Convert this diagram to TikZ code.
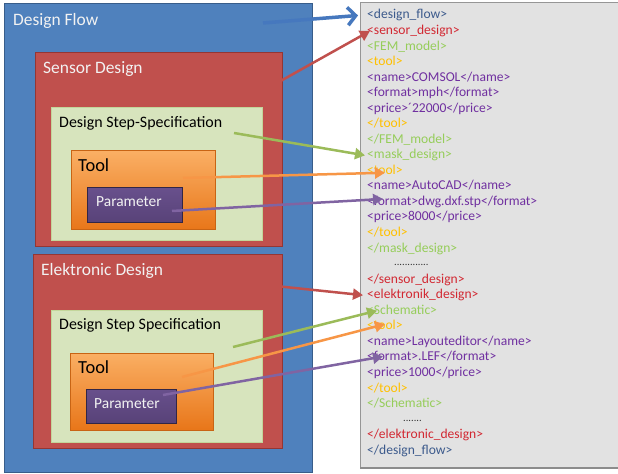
\documentclass[tikz,border=0pt]{standalone}
\usepackage{fontspec}
\setmainfont{Carlito}
\usetikzlibrary{arrows.meta}
\definecolor{cBlue}{RGB}{79,129,189}
\definecolor{cBlueD}{RGB}{56,93,138}
\definecolor{cRed}{RGB}{192,80,77}
\definecolor{cRedD}{RGB}{148,54,52}
\definecolor{cGreen}{RGB}{215,228,189}
\definecolor{cGreenD}{RGB}{195,214,155}
\definecolor{cOrT}{RGB}{250,175,100}
\definecolor{cOrB}{RGB}{232,118,25}
\definecolor{cOrD}{RGB}{200,100,20}
\definecolor{cPuT}{RGB}{104,80,140}
\definecolor{cPuB}{RGB}{88,66,120}
\definecolor{cPuD}{RGB}{50,38,70}
\definecolor{cPanel}{RGB}{226,226,226}
\definecolor{cPanelD}{RGB}{150,150,150}
\definecolor{aBlue}{RGB}{70,120,190}
\definecolor{aRed}{RGB}{192,80,77}
\definecolor{aGreen}{RGB}{155,187,89}
\definecolor{aOrange}{RGB}{247,150,70}
\definecolor{aPurple}{RGB}{128,100,162}
\definecolor{tDF}{RGB}{60,90,140}
\definecolor{tRed}{RGB}{210,40,50}
\definecolor{tGreen}{RGB}{150,205,90}
\definecolor{tTool}{RGB}{255,192,0}
\definecolor{tPur}{RGB}{112,48,160}
\begin{document}
\begin{tikzpicture}[x=1bp,y=-1bp,
  box/.style={line width=1bp, anchor=north west, inner sep=0pt, outer sep=0pt},
  lbl/.style={anchor=base west, inner sep=0pt},
  wlbl/.style={lbl, text=white!95!black},
  xml/.style={anchor=base west, inner sep=0pt, font=\fontsize{13.6}{15}\selectfont},
  con/.style={line width=2.5bp, -{Triangle[length=10bp,width=11bp]}}]
\useasboundingbox (0,0) rectangle (618,474);
\fill[white] (0,0) rectangle (618,474);
% boxes
\node[box, fill=cBlue, draw=cBlueD, minimum width=308bp, minimum height=468bp] (flow) at (4,4) {};
\node[box, fill=cRed, draw=cRedD, minimum width=247bp, minimum height=193bp] (sens) at (35,53) {};
\node[box, fill=cGreen, draw=cGreenD, minimum width=211bp, minimum height=132bp] (spec1) at (51,108) {};
\node[box, top color=cOrT, bottom color=cOrB, draw=cOrD, minimum width=144bp, minimum height=79bp] (tool1) at (71,151) {};
\node[box, top color=cPuT, bottom color=cPuB, draw=cPuD, minimum width=95bp, minimum height=35bp] (par1) at (87,188) {};
\node[box, fill=cRed, draw=cRedD, minimum width=249bp, minimum height=193bp] (elek) at (33,255) {};
\node[box, fill=cGreen, draw=cGreenD, minimum width=211bp, minimum height=132bp] (spec2) at (51,310) {};
\node[box, top color=cOrT, bottom color=cOrB, draw=cOrD, minimum width=143bp, minimum height=77bp] (tool2) at (70,353) {};
\node[box, top color=cPuT, bottom color=cPuB, draw=cPuD, minimum width=90bp, minimum height=34bp] (par2) at (86,389) {};
% labels
\node[wlbl, font=\fontsize{17.5}{20}\selectfont] (lflow) at (13,26) {Design Flow};
\node[wlbl, font=\fontsize{17.5}{20}\selectfont] (lsens) at (43,74) {Sensor Design};
\node[lbl, font=\fontsize{16}{19}\selectfont] (lspec1) at (59,128) {Design Step-Specification};
\node[lbl, font=\fontsize{18.5}{21}\selectfont] (ltool1) at (78,172) {Tool};
\node[wlbl, font=\fontsize{15.5}{18}\selectfont] (lpar1) at (96,207) {Parameter};
\node[wlbl, font=\fontsize{17.5}{20}\selectfont] (lelek) at (41,276) {Elektronic Design};
\node[lbl, font=\fontsize{16}{19}\selectfont] (lspec2) at (59,329) {Design Step Specification};
\node[lbl, font=\fontsize{18.5}{21}\selectfont] (ltool2) at (78,373) {Tool};
\node[wlbl, font=\fontsize{15.5}{18}\selectfont] (lpar2) at (94,408) {Parameter};
% panel
\node[box, fill=cPanel, draw=cPanelD, minimum width=262bp, minimum height=465bp] (panel) at (360,3) {};
\draw[black!45, line width=1.5bp] (panel.south west) -- (panel.south east);
% xml lines
\node[xml, text=tDF]    (x1)  at (367,19.0)  {<design\_flow>};
\node[xml, text=tRed]   (x2)  at (367,34.5)  {<sensor\_design>};
\node[xml, text=tGreen] (x3)  at (367,50.1)  {<FEM\_model>};
\node[xml, text=tTool]  (x4)  at (367,65.6)  {<tool>};
\node[xml, text=tPur]   (x5)  at (367,81.2)  {<name>COMSOL</name>};
\node[xml, text=tPur]   (x6)  at (367,96.7)  {<format>mph</format>};
\node[xml, text=tPur]   (x7)  at (367,112.2) {<price>´22000</price>};
\node[xml, text=tTool]  (x8)  at (367,127.8) {</tool>};
\node[xml, text=tGreen] (x9)  at (367,143.3) {</FEM\_model>};
\node[xml, text=tGreen] (x10) at (367,158.9) {<mask\_design>};
\node[xml, text=tTool]  (x11) at (367,174.4) {<tool>};
\node[xml, text=tPur]   (x12) at (367,189.9) {<name>AutoCAD</name>};
\node[xml, text=tPur]   (x13) at (367,205.5) {<format>dwg.dxf.stp</format>};
\node[xml, text=tPur]   (x14) at (367,221.0) {<price>8000</price>};
\node[xml, text=tTool]  (x15) at (367,236.6) {</tool>};
\node[xml, text=tGreen] (x16) at (367,252.1) {</mask\_design>};
\node[xml, text=black!80, font=\fontsize{10.5}{12}\selectfont] (x17) at (394,265.6) {.............};
\node[xml, text=tRed]   (x18) at (367,283.2) {</sensor\_design>};
\node[xml, text=tRed]   (x19) at (367,298.7) {<elektronik\_design>};
\node[xml, text=tGreen] (x20) at (367,314.3) {<Schematic>};
\node[xml, text=tTool]  (x21) at (367,329.8) {<tool>};
\node[xml, text=tPur]   (x22) at (367,345.4) {<name>Layouteditor</name>};
\node[xml, text=tPur]   (x23) at (367,360.9) {<format>.LEF</format>};
\node[xml, text=tPur]   (x24) at (367,376.4) {<price>1000</price>};
\node[xml, text=tTool]  (x25) at (367,392.0) {</tool>};
\node[xml, text=tGreen] (x26) at (367,407.5) {</Schematic>};
\node[xml, text=black!80, font=\fontsize{10.5}{12}\selectfont] (x27) at (403,421.0) {.......};
\node[xml, text=tRed]   (x28) at (367,438.6) {</elektronic\_design>};
\node[xml, text=tDF]    (x29) at (367,454.2) {</design\_flow>};
% connector starts
\coordinate (s1) at (263,23);
\coordinate (s2) at (252,97);
\coordinate (s3) at (234,133);
\coordinate (s4) at (183,178);
\coordinate (s5) at (172,211);
\coordinate (s6) at (228,281);
\coordinate (s7) at (233,347);
\coordinate (s8) at (182,377);
\coordinate (s9) at (163,395);
% connectors
\draw[aBlue, line width=3.5bp, -{Straight Barb[length=8bp,width=18bp,line width=3.5bp]}] (s1) -- ([shift={(-9,0)}]x1.west);
\draw[con, aRed] (s2) -- ([shift={(3,0)}]x2.west);
\draw[con, aGreen] (s3) -- ([shift={(-2,0)}]x10.west);
\draw[con, aOrange] (s4) -- ([shift={(18,3)}]x11.west);
\draw[con, aPurple] (s5) -- ([shift={(16,-3)}]x13.west);
\draw[con, aRed] (s6) -- ([shift={(-4,0)}]x19.west);
\draw[con, aGreen] (s7) -- ([shift={(10,1)}]x20.west);
\draw[con, aOrange] (s8) -- ([shift={(18,-1)}]x21.west);
\draw[con, aPurple] (s9) -- ([shift={(16,0)}]x23.west);
\end{tikzpicture}
\end{document}
